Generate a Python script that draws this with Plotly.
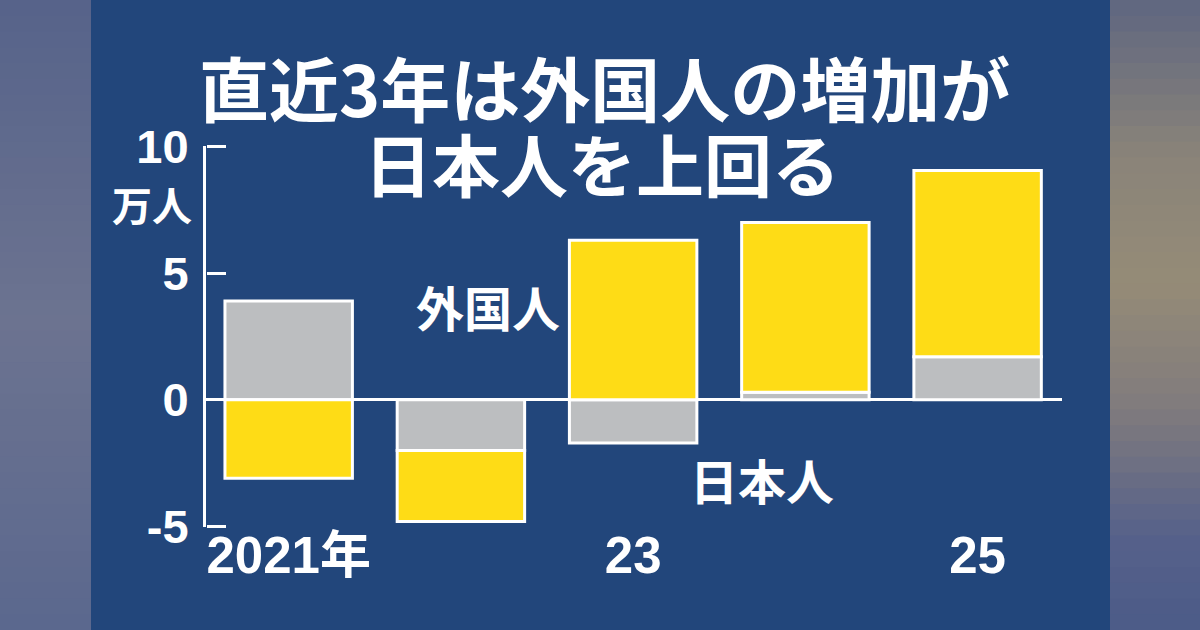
import plotly.graph_objects as go

# ---- data (万人) ----
years = ["2021", "2022", "2023", "2024", "2025"]
tick_text = ["2021年", "", "23", "", "25"]
japanese = [3.9, -2.0, -1.7, 0.3, 1.7]      # 日本人
foreigners = [-3.1, -2.8, 6.3, 6.7, 7.35]   # 外国人
y_ticks = [-5, 0, 5, 10]

# ---- style ----
W, H = 1200, 630
L, R, T, B = 206, 138, 146, 103
PW, PH = W - L - R, H - T - B
NAVY = "#22467b"
YELLOW = "#fedc16"
GRAY = "#bcbec0"
WHITE = "#ffffff"
FONT = "Noto Sans CJK JP"
NUMFONT = "Liberation Sans, Noto Sans CJK JP"
YRANGE = [-5.02, 10.02]

def px_x(px):
    return (px - L) / PW

def px_y(py):
    return (H - B - py) / PH

def hex2rgb(h):
    h = h.lstrip("#")
    return tuple(int(h[i:i + 2], 16) for i in (0, 2, 4))

def lerp_color(stops, f):
    for (f0, c0), (f1, c1) in zip(stops, stops[1:]):
        if f0 <= f <= f1:
            t = 0 if f1 == f0 else (f - f0) / (f1 - f0)
            a, b = hex2rgb(c0), hex2rgb(c1)
            return "rgb(%d,%d,%d)" % tuple(round(a[i] + (b[i] - a[i]) * t) for i in range(3))
    return stops[-1][1]

left_stops = [(0.0, "#56638a"), (0.5, "#6c7390"), (1.0, "#5b688e")]
right_stops = [(0.0, "#5f6680"), (0.25, "#8a8479"), (0.45, "#958b77"),
               (0.65, "#807b7d"), (0.85, "#56618a"), (1.0, "#4c5b88")]

shapes = []
N = 40
for i in range(N):
    f = (i + 0.5) / N
    y0, y1 = i * H / N, (i + 1) * H / N + 1
    for (xa, xb, stops) in [(0, 91, left_stops), (1110, W, right_stops)]:
        shapes.append(dict(type="rect", xref="paper", yref="paper",
                           x0=px_x(xa), x1=px_x(xb), y0=px_y(y1), y1=px_y(y0),
                           fillcolor=lerp_color(stops, f), line=dict(width=0),
                           layer="below"))

fig = go.Figure()
fig.add_trace(go.Bar(x=years, y=japanese, name="日本人", width=0.74,
                     marker=dict(color=GRAY, line=dict(color=WHITE, width=3))))
fig.add_trace(go.Bar(x=years, y=foreigners, name="外国人", width=0.74,
                     marker=dict(color=YELLOW, line=dict(color=WHITE, width=3))))
# invisible helper trace so the tick-mark axis (y2) is drawn
fig.add_trace(go.Scatter(x=years, y=[None] * len(years), yaxis="y2",
                         mode="markers", hoverinfo="skip", showlegend=False))

annotations = [
    dict(text="直近3年は外国人の増加が", xref="paper", yref="paper",
         x=px_x(604), y=px_y(87), xanchor="center", yanchor="middle",
         showarrow=False, font=dict(family=FONT, size=70, color=WHITE, weight="bold")),
    dict(text="日本人を上回る", xref="paper", yref="paper",
         x=px_x(602), y=px_y(162), xanchor="center", yanchor="middle",
         showarrow=False, font=dict(family=FONT, size=68, color=WHITE, weight="bold")),
    dict(text="万人", xref="paper", yref="paper",
         x=px_x(194), y=px_y(204), xanchor="right", yanchor="middle",
         showarrow=False, font=dict(family=FONT, size=40, color=WHITE, weight="bold")),
    dict(text="外国人", xref="paper", yref="paper",
         x=px_x(488), y=px_y(306), xanchor="center", yanchor="middle",
         showarrow=False, font=dict(family=FONT, size=48, color=WHITE, weight="bold")),
    dict(text="日本人", xref="paper", yref="paper",
         x=px_x(762), y=px_y(479), xanchor="center", yanchor="middle",
         showarrow=False, font=dict(family=FONT, size=48, color=WHITE, weight="bold")),
]

fig.update_layout(
    width=W, height=H,
    margin=dict(l=L, r=R, t=T, b=B, pad=0),
    paper_bgcolor=NAVY, plot_bgcolor=NAVY,
    barmode="relative", bargap=0.26,
    showlegend=False,
    shapes=shapes, annotations=annotations,
    font=dict(family=FONT, color=WHITE),
    yaxis2=dict(overlaying="y", anchor="free", position=0, side="right",
                range=YRANGE, tickvals=y_ticks, showticklabels=False,
                ticks="outside", ticklen=19, tickwidth=3, tickcolor=WHITE,
                showline=False, showgrid=False, zeroline=False),
)
fig.update_xaxes(type="category", tickvals=years, ticktext=tick_text,
                 range=[-0.48, 4.49], showline=False, showgrid=False,
                 zeroline=False, ticks="", ticklabelstandoff=-6,
                 tickfont=dict(family=NUMFONT, size=51, color=WHITE, weight="bold"))
fig.update_layout(yaxis=dict(range=YRANGE, tickvals=y_ticks, ticktext=[str(v) for v in y_ticks],
                             showline=True, linecolor=WHITE, linewidth=3,
                             ticks="", showgrid=False,
                             zeroline=True, zerolinecolor=WHITE, zerolinewidth=3,
                             ticklabelstandoff=5,
                             tickfont=dict(family=NUMFONT, size=47, color=WHITE, weight="bold")))

fig.write_html("out.html", config={"displayModeBar": False},
               post_script="document.body.style.margin='0';document.body.style.overflow='hidden';")
